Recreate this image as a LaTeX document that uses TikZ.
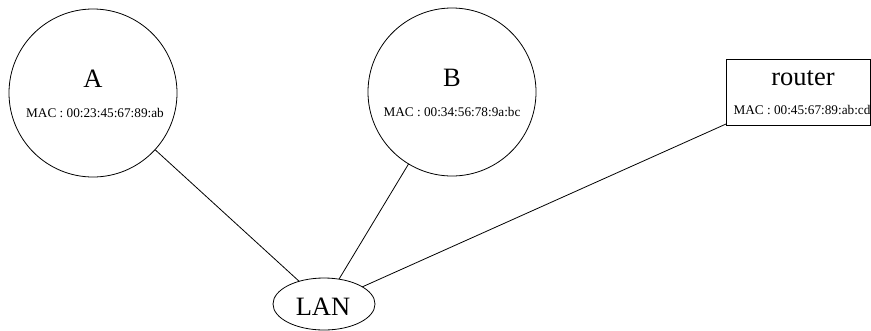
\documentclass[tikz,border=0pt]{standalone}
\usepackage{fontspec}
\setmainfont{Liberation Serif}
\usetikzlibrary{shapes.geometric}

\begin{document}
\begin{tikzpicture}[x=1bp, y=-1bp, line width=0.8bp,
    host/.style={draw, circle, minimum size=168bp, inner sep=0pt, outer sep=0pt},
    gate/.style={draw, rectangle, minimum width=144bp, minimum height=66bp, inner sep=0pt, outer sep=0pt},
    net/.style={draw, ellipse, minimum width=102bp, minimum height=52bp, inner sep=0pt, outer sep=0pt},
    bigtxt/.style={anchor=base, inner sep=0pt, font=\fontsize{26.6}{28}\selectfont},
    mactxt/.style={anchor=base, inner sep=0pt, font=\fontsize{13.3}{14}\selectfont}]
  % page frame 871 x 330 px, y grows downwards
  \useasboundingbox (0,0) rectangle (871,330);

  % hosts
  \node[host] (A) at (93,93) {};
  \node[bigtxt] (nameA) at (93,87) {A};
  \node[mactxt] (macA) at (95,117) {MAC : 00:23:45:67:89:ab};

  \node[host] (B) at (452,92) {};
  \node[bigtxt] (nameB) at (452,86) {B};
  \node[mactxt] (macB) at (452,116) {MAC : 00:34:56:78:9a:bc};

  % router
  \node[gate] (router) at (798,92) {};
  \node[bigtxt] (nameR) at (803,85) {router};
  \node[mactxt] (macR) at (802,114) {MAC : 00:45:67:89:ab:cd};

  % LAN
  \node[net] (LAN) at (324,304) {};
  \node[bigtxt] (nameL) at (323,315) {LAN};

  % links
  \draw (A) -- (LAN);
  \draw (B) -- (LAN);
  \draw (router) -- (LAN);
\end{tikzpicture}
\end{document}
